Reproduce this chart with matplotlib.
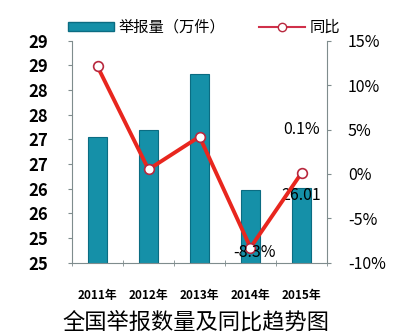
import matplotlib.pyplot as plt
from matplotlib.lines import Line2D
from matplotlib.patches import Patch
import numpy as np
import math

plt.rcParams['font.family'] = ['Noto Sans CJK SC', 'DejaVu Sans']

years = ['2011年', '2012年', '2013年', '2014年', '2015年']
reports = [27.04, 27.18, 28.32, 25.97, 26.01]   # 万件
yoy = [12.1, 0.5, 4.2, -8.3, 0.1]              # %

bar_color = '#1590a8'
bar_edge = '#0b6c82'
line_color = '#e8261e'
axis_color = '#7f8c8d'

fig = plt.figure(figsize=(4, 3.32), dpi=100)
ax = fig.add_axes([0.18, 0.2087, 0.6375, 0.6687])
x = np.arange(len(years))

ax.bar(x, reports, width=0.37, color=bar_color, edgecolor=bar_edge, linewidth=0.8, zorder=2)
ax.set_xlim(-0.5, 4.5)
ax.set_ylim(24.5, 29)
lticks = np.arange(24.5, 29.01, 0.5)
ax.set_yticks(lticks)
# half steps rounded to whole numbers
ax.set_yticklabels([str(int(math.floor(t + 0.5))) for t in lticks],
                   fontsize=12, fontweight='bold')
ax.set_xticks(x)
ax.set_xticklabels(years, fontsize=8.5, fontweight='bold')
ax.set_xticks(np.arange(-0.5, 4.6, 1), minor=True)
ax.tick_params(axis='x', which='major', length=0, pad=19)
ax.tick_params(axis='x', which='minor', length=4, direction='inout', color=axis_color)
ax.tick_params(axis='y', length=3, color=axis_color, pad=14)
for s in ['top', 'right']:
    ax.spines[s].set_visible(False)
for s in ['left', 'bottom']:
    ax.spines[s].set_color(axis_color)

ax2 = ax.twinx()
ax2.plot(x, yoy, color=line_color, linewidth=2.8, marker='o', markersize=7,
         markerfacecolor='white', markeredgecolor='#b8283e', markeredgewidth=1.2, zorder=3)
ax2.set_ylim(-10, 15)
ax2.set_yticks(np.arange(-10, 16, 5))
ax2.set_yticklabels([f'{v}%' for v in range(-10, 16, 5)], fontsize=11.5)
ax2.tick_params(axis='y', length=3, color=axis_color, pad=12)
for s in ['top', 'left', 'bottom']:
    ax2.spines[s].set_visible(False)
ax2.spines['right'].set_color(axis_color)

# value labels
ax2.text(x[4], 5.0, f'{yoy[4]}%', ha='center', va='center', fontsize=11.5)
ax2.text(x[3] + 0.08, yoy[3] - 0.5, f'{yoy[3]}%', ha='center', va='center', fontsize=11.5)
ax.text(x[4], 25.87, f'{reports[4]:.2f}', ha='center', va='center', fontsize=11.5,
        zorder=5)

handles = [Patch(facecolor=bar_color, edgecolor=bar_edge),
           Line2D([0], [0], color='#d0304a', linewidth=1.5, marker='o', markersize=6,
                  markerfacecolor='white', markeredgecolor='#b8283e')]
fig.legend(handles, ['举报量（万件）', '同比'], loc='upper center', bbox_to_anchor=(0.51, 0.985),
           ncol=2, frameon=False, fontsize=11, handlelength=3.0, handleheight=0.5,
           handletextpad=0.3, columnspacing=2.2)

fig.text(0.49, 0.03, '全国举报数量及同比趋势图', ha='center', va='center', fontsize=16)

fig.savefig('out.png', dpi=100)
